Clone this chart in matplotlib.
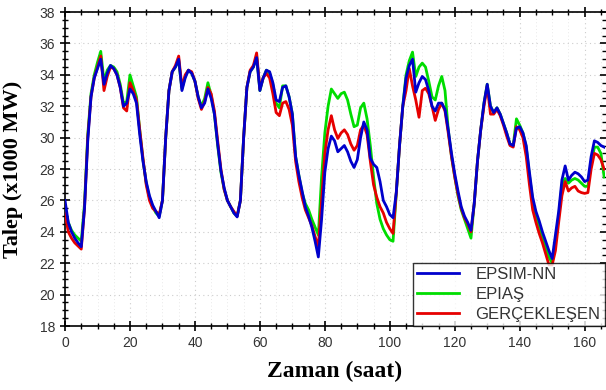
import matplotlib
matplotlib.use("Agg")
import matplotlib.pyplot as plt
from matplotlib.ticker import MultipleLocator
import numpy as np

hours = list(range(0, 167))

epsim_nn = [
    26.0, 24.6, 24.0, 23.6, 23.3, 23.05, 25.5, 29.8, 32.6, 33.8, 34.4, 35.0, 33.4, 34.1, 34.6, 34.4, 34.0, 33.2, 32.0, 32.2, 33.1, 32.8, 32.2, 30.2,
    28.5, 27.2, 26.3, 25.7, 25.3, 24.9, 26.0, 30.0, 33.0, 34.2, 34.5, 35.0, 33.0, 33.8, 34.3, 34.1, 33.6, 32.6, 31.9, 32.2, 33.1, 32.5, 31.5, 29.6,
    27.9, 26.8, 26.0, 25.6, 25.2, 24.95, 26.0, 30.0, 33.2, 34.2, 34.5, 35.1, 33.0, 33.8, 34.3, 34.2, 33.5, 32.4, 32.3, 33.2, 33.3, 32.6, 31.5, 28.8,
    27.6, 26.6, 25.6, 25.0, 24.3, 23.4, 22.4, 24.8, 27.8, 29.3, 30.1, 29.8, 29.1, 29.3, 29.5, 29.1, 28.5, 28.1, 28.6, 30.0, 31.0, 30.5, 28.7, 28.3,
    28.1, 27.2, 26.0, 25.6, 25.1, 24.9, 26.5, 29.5, 32.0, 33.8, 34.6, 35.0, 32.9, 33.5, 33.9, 33.7, 33.0, 32.0, 31.7, 32.2, 32.2, 31.8, 30.5, 29.0,
    27.7, 26.6, 25.6, 25.0, 24.6, 24.1, 25.8, 28.5, 30.5, 32.2, 33.4, 32.0, 31.6, 31.9, 31.5, 30.9, 30.3, 29.6, 29.5, 30.6, 30.7, 30.3, 29.5, 27.8,
    26.2, 25.3, 24.7, 24.0, 23.4, 22.8, 22.3, 23.8, 25.3, 27.3, 28.2, 27.3, 27.6, 27.8, 27.7, 27.5, 27.2, 27.3, 28.8, 29.8, 29.7, 29.5, 29.4,
]

epias = [
    25.5, 24.6, 24.1, 23.8, 23.6, 23.4, 25.8, 30.2, 32.8, 34.0, 34.8, 35.5, 33.6, 34.3, 34.6, 34.5, 34.2, 33.4, 32.2, 32.3, 34.0, 33.3, 32.6, 30.5,
    28.6, 27.1, 26.2, 25.6, 25.2, 25.0, 26.0, 30.0, 33.0, 34.2, 34.5, 34.9, 33.1, 33.9, 34.3, 34.1, 33.6, 32.6, 32.0, 32.5, 33.5, 32.7, 31.5, 29.5,
    27.8, 26.7, 26.0, 25.6, 25.2, 25.0, 26.0, 30.0, 33.2, 34.2, 34.5, 35.2, 33.0, 33.8, 34.3, 34.1, 33.4, 32.2, 31.9, 33.3, 33.3, 32.6, 31.5, 28.8,
    27.6, 26.5, 25.8, 25.4, 24.8, 24.3, 23.8, 27.5, 30.3, 32.0, 33.1, 32.8, 32.5, 32.8, 32.9, 32.4, 31.5, 30.7, 30.8, 31.9, 32.2, 31.2, 29.5, 27.5,
    25.8, 24.8, 24.2, 23.8, 23.5, 23.4, 26.5, 29.5, 32.0, 34.0, 34.9, 35.45, 33.9, 34.5, 34.75, 34.5, 33.6, 32.6, 32.4, 33.3, 33.9, 33.0, 30.5, 28.8,
    27.5, 26.3, 25.4, 24.8, 24.2, 23.6, 25.8, 28.5, 30.5, 32.2, 33.4, 32.0, 31.6, 31.9, 31.5, 30.9, 30.3, 29.6, 29.5, 31.2, 30.8, 30.3, 29.4, 27.6,
    26.0, 25.0, 24.3, 23.6, 23.0, 22.4, 22.0, 23.3, 25.0, 27.0, 27.4, 27.1, 27.3, 27.4, 27.3, 27.1, 26.9, 26.9, 28.3, 29.4, 29.4, 29.0, 27.5,
]

gerceklesen = [
    25.2, 24.0, 23.6, 23.3, 23.1, 22.9, 25.5, 30.0, 32.6, 33.8, 34.5, 35.2, 33.0, 33.9, 34.5, 34.4, 34.0, 33.2, 31.9, 31.7, 33.5, 33.0, 32.4, 30.5,
    28.7, 27.0, 26.0, 25.5, 25.3, 25.1, 26.0, 30.0, 33.0, 34.2, 34.6, 35.2, 33.2, 34.0, 34.3, 34.2, 33.6, 32.5, 31.8, 32.3, 33.2, 32.8, 31.7, 29.8,
    28.0, 26.7, 26.0, 25.6, 25.3, 25.0, 26.0, 30.0, 33.2, 34.3, 34.6, 35.4, 33.1, 33.8, 34.1, 33.8, 32.8, 31.6, 31.4, 32.2, 32.3, 31.8, 30.8, 28.5,
    27.2, 26.2, 25.4, 24.9, 24.4, 23.7, 23.05, 26.0, 29.0, 30.5, 31.4, 30.5, 29.95, 30.3, 30.5, 30.2, 29.6, 29.2, 29.5, 30.5, 30.8, 30.2, 28.5, 27.0,
    26.2, 25.6, 25.2, 24.6, 24.2, 23.9, 26.5, 29.5, 32.0, 33.0, 34.4, 33.3, 32.4, 31.3, 33.0, 33.15, 32.8, 32.0, 31.1, 31.8, 32.2, 31.7, 30.3, 28.8,
    27.5, 26.4, 25.5, 24.9, 24.5, 24.0, 25.8, 28.5, 30.5, 32.0, 33.3, 31.5, 31.5, 31.8, 31.4, 30.8, 30.1, 29.5, 29.4, 30.7, 30.5, 30.0, 28.8, 27.0,
    25.4, 24.6, 23.9, 23.3, 22.6, 21.9, 21.9, 22.8, 24.6, 26.3, 27.2, 26.6, 26.8, 26.9, 26.6, 26.5, 26.45, 26.5, 28.0, 29.0, 28.9, 28.6, 28.0,
]

x_ticks = [0, 20, 40, 60, 80, 100, 120, 140, 160]
y_ticks = [18, 20, 22, 24, 26, 28, 30, 32, 34, 36, 38]

fig = plt.figure(figsize=(6.06, 3.90), dpi=100)
ax = fig.add_axes([0.1073, 0.164, 0.8907, 0.805])

lw = 2.0
l_green, = ax.plot(hours, epias, color="#00dd00", lw=lw, label="EPIAŞ", zorder=3)
l_red, = ax.plot(hours, gerceklesen, color="#e60000", lw=lw, label="GERÇEKLEŞEN", zorder=4)
l_blue, = ax.plot(hours, epsim_nn, color="#0000cc", lw=lw, label="EPSIM-NN", zorder=5)

ax.set_xlim(0, 166.2)
ax.set_ylim(18, 38)
ax.set_xticks(x_ticks)
ax.set_yticks(y_ticks)
ax.xaxis.set_minor_locator(MultipleLocator(5))
ax.yaxis.set_minor_locator(MultipleLocator(0.5))
ax.tick_params(which="both", direction="inout", top=True, right=True, colors="black",
               labelcolor="#333333", labelsize=10)
ax.tick_params(which="major", length=7, width=1.2)
ax.tick_params(which="minor", length=5, width=1.0)
for lab in ax.get_xticklabels() + ax.get_yticklabels():
    lab.set_fontfamily("Liberation Sans")

for s in ax.spines.values():
    s.set_linewidth(1.2)
ax.spines["right"].set_visible(False)

ax.grid(True, which="major", linestyle=(0, (1, 3)), color="#cccccc", lw=0.8)
ax.grid(True, which="minor", axis="x", linestyle=(0, (1, 3)), color="#e2e2e2", lw=0.6)

ax.set_ylabel("Talep (x1000 MW)", fontfamily="Liberation Serif", fontweight="bold", fontsize=16, labelpad=12)
ax.set_xlabel("Zaman (saat)", fontfamily="Liberation Serif", fontweight="bold", fontsize=17, labelpad=8)

leg = ax.legend(handles=[l_blue, l_green, l_red], loc="lower right", frameon=True, fancybox=False,
                edgecolor="black", borderaxespad=0, handlelength=2.5, handletextpad=1.0,
                labelspacing=0.3, borderpad=0.25,
                prop={"family": "Liberation Sans", "size": 12})
leg.get_frame().set_linewidth(1.0)
for t in leg.get_texts():
    t.set_color("#333333")

fig.savefig("out.png", dpi=100)
